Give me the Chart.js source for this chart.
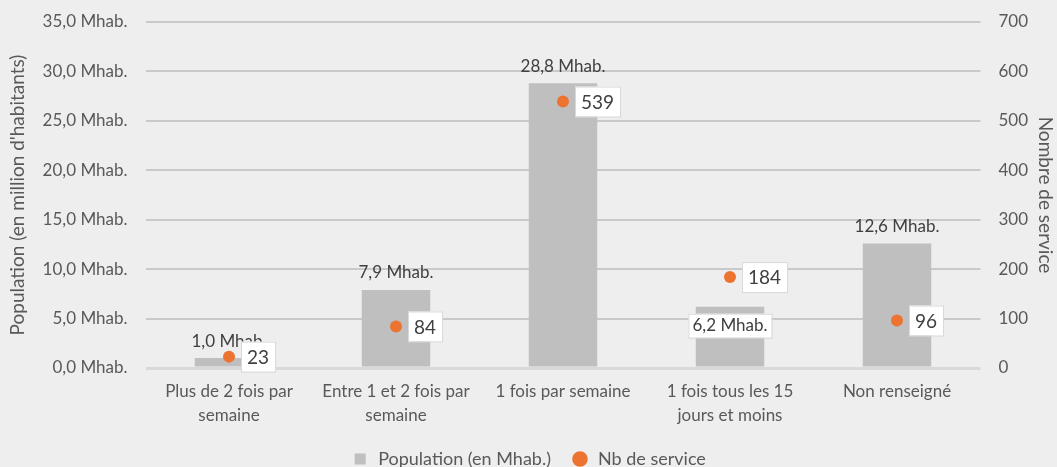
<!DOCTYPE html>
<html><head><meta charset="utf-8">
<script src="https://cdn.jsdelivr.net/npm/chart.js@4/dist/chart.umd.min.js"></script>
<style>html,body{margin:0;padding:0;background:#eeeeee;}#wrap{width:1057px;height:467px;}</style>
</head><body><div id="wrap"><canvas id="c" width="1057" height="467"></canvas></div>
<script>
const categories = [["Plus de 2 fois par","semaine"],["Entre 1 et 2 fois par","semaine"],["1 fois par semaine"],["1 fois tous les 15","jours et moins"],["Non renseigné"]];
const population = [1.0, 7.9, 28.8, 6.2, 12.6];
const services = [23, 84, 539, 184, 96];
const seriesNames = ["Population (en Mhab.)", "Nb de service"];
const axisTitles = ["Population (en million d'habitants)", "Nombre de service"];

const FONT = "Lato, 'Open Sans', sans-serif";
const TXT = '#595959';
const fmtPop = v => v.toFixed(1).replace('.', ',') + ' Mhab.';
const barLabelPlace = ['above','above','above','inside','above'];

const bg = {id:'bg', beforeDraw(c){const x=c.ctx;x.save();x.fillStyle='#eeeeee';x.fillRect(0,0,c.width,c.height);x.restore();}};

const labels = {
  id:'labels',
  afterDatasetsDraw(chart){
    const ctx = chart.ctx;
    ctx.save();
    ctx.textBaseline='middle';
    ctx.font = '17px ' + FONT;
    chart.getDatasetMeta(0).data.forEach((el,i)=>{
      const t = fmtPop(population[i]);
      const w = ctx.measureText(t).width;
      ctx.textAlign='center';
      if (barLabelPlace[i]==='inside'){
        const cy = el.y + 19;
        ctx.fillStyle='#ffffff';
        ctx.fillRect(el.x - w/2 - 4, cy - 12, w + 8, 24);
        ctx.strokeStyle='#d9d9d9'; ctx.lineWidth=1;
        ctx.strokeRect(el.x - w/2 - 4 + 0.5, cy - 12 + 0.5, w + 8, 24);
        ctx.fillStyle='#404040';
        ctx.fillText(t, el.x, cy);
      } else {
        ctx.fillStyle='#404040';
        ctx.fillText(t, el.x, el.y - 17);
      }
    });
    ctx.font = '19px ' + FONT;
    chart.getDatasetMeta(1).data.forEach((el,i)=>{
      const t = String(services[i]);
      const w = ctx.measureText(t).width;
      const bx = el.x + 12, bw = w + 12, bh = 30, by = el.y - 15;
      ctx.fillStyle='#ffffff';
      ctx.fillRect(bx, by, bw, bh);
      ctx.strokeStyle='#d9d9d9'; ctx.lineWidth=1;
      ctx.strokeRect(bx+0.5, by+0.5, bw, bh);
      ctx.fillStyle='#404040';
      ctx.textAlign='left';
      ctx.fillText(t, bx + 6, el.y + 1);
    });
    ctx.restore();
  }
};

new Chart(document.getElementById('c'), {
  type:'bar',
  data:{
    labels: categories,
    datasets:[
      {label: seriesNames[0], data: population, backgroundColor:'#bfbfbf', yAxisID:'y', order:2,
       barPercentage:0.82, categoryPercentage:0.5, pointStyle:'rect'},
      {type:'line', label: seriesNames[1], data: services, yAxisID:'y1', showLine:false, order:1,
       pointRadius:6, pointHoverRadius:6, pointBackgroundColor:'#ec7430', pointBorderColor:'#ec7430',
       backgroundColor:'#ec7430', borderColor:'#ec7430', pointStyle:'circle', borderWidth:0}
    ]
  },
  options:{
    responsive:false, animation:false, devicePixelRatio:1,
    layout:{padding:{top:22, left:0, right:0, bottom:-11}},
    plugins:{
      tooltip:{enabled:false},
      legend:{position:'bottom', labels:{usePointStyle:true, boxHeight:11, padding:20, color:TXT, font:{family:FONT, size:18},
              sort:(a,b)=>a.datasetIndex-b.datasetIndex}}
    },
    scales:{
      x:{grid:{display:false, drawTicks:false}, border:{display:false},
         ticks:{color:TXT, font:{family:FONT, size:17, lineHeight:1.41}, padding:12, maxRotation:0, autoSkip:false},
         afterFit(s){ s.height = 62; }},
      y:{position:'left', min:0, max:35, 
         ticks:{stepSize:5, color:TXT, font:{family:FONT, size:17}, padding:18, callback:v=>fmtPop(v)},
         grid:{color:c=>c.tick.value===0?'#d9d9d9':'#c9c9c9', lineWidth:c=>c.tick.value===0?3:2, drawTicks:false},
         border:{display:false},
         title:{display:true, text:axisTitles[0], color:TXT, font:{family:FONT, size:19}, padding:{top:6,bottom:0}},
         afterFit(s){ s.width = 145.5; s.paddingTop = 10; s.paddingBottom = 10; }},
      y1:{position:'right', min:0, max:700,
         ticks:{stepSize:100, color:TXT, font:{family:FONT, size:17}, padding:18},
         grid:{display:false, drawTicks:false}, border:{display:false},
         title:{display:true, text:axisTitles[1], color:TXT, font:{family:FONT, size:19}, padding:{top:0,bottom:0}},
         afterFit(s){ s.width = 76.5; s.paddingTop = 10; s.paddingBottom = 10; }}
    }
  },
  plugins:[bg, labels]
});
</script></body></html>
